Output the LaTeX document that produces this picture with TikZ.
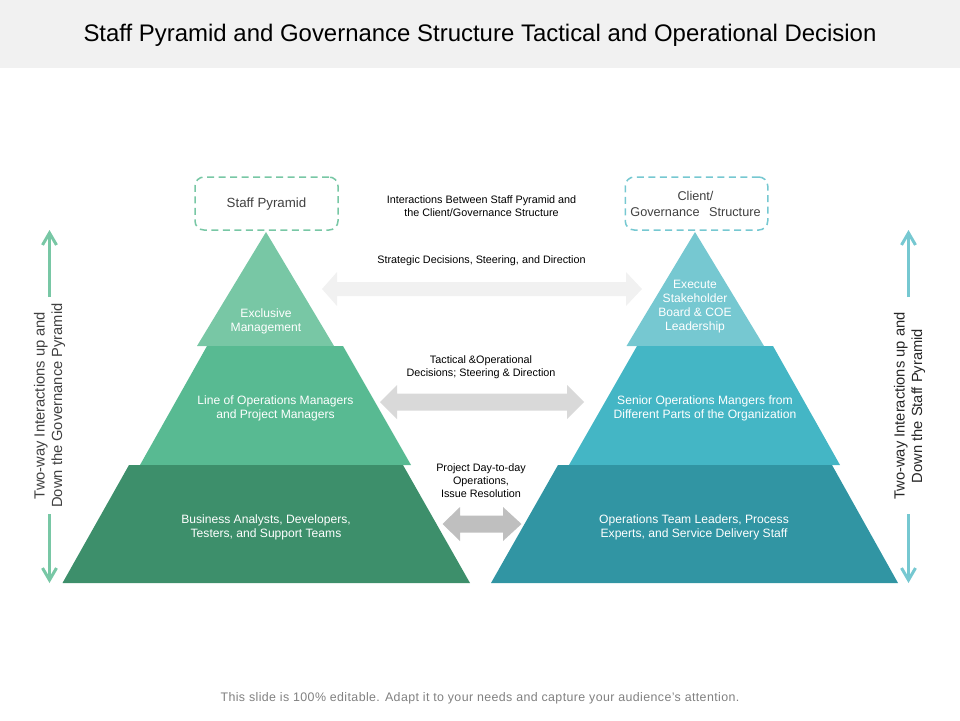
\documentclass[tikz,border=0pt]{standalone}
\usepackage{fontspec}
\setmainfont{Liberation Sans}
\usetikzlibrary{arrows.meta}
\definecolor{gband}{HTML}{F1F1F1}
\definecolor{ga}{HTML}{78C7A5}
\definecolor{gb}{HTML}{58BA92}
\definecolor{gc}{HTML}{3D8F6B}
\definecolor{ta}{HTML}{76C8D1}
\definecolor{tb}{HTML}{44B6C5}
\definecolor{tc}{HTML}{3195A3}
\definecolor{ink}{HTML}{404040}
\tikzset{
  lbl/.style={align=center,inner sep=0pt,font=\fontsize{10.8}{13}\selectfont,text=black},
  wht/.style={align=center,inner sep=0pt,font=\fontsize{12.1}{14}\selectfont,text=white},
  boxtxt/.style={align=center,inner sep=0pt,font=\fontsize{12.7}{16}\selectfont,text=ink},
  sidetxt/.style={align=center,inner sep=0pt,rotate=90,font=\fontsize{14.7}{17.5}\selectfont},
  dashbox/.style={draw,line width=1.5pt,dash pattern=on 7pt off 4.5pt,rounded corners=9pt},
  vert/.style={line width=3.2pt,-{Straight Barb[length=12pt,width=14pt,line width=3pt]}},
}
\begin{document}
\begin{tikzpicture}[x=1pt,y=-1pt]
\useasboundingbox (0,0) rectangle (960,720);
\fill[gband] (0,0) rectangle (960,68);
\node[inner sep=0pt,font=\fontsize{23.95}{28}\selectfont,text=black] (title) at (480,35) {Staff Pyramid and Governance Structure Tactical and Operational Decision};
\node[inner sep=0pt,font=\fontsize{12.4}{14}\selectfont\addfontfeature{LetterSpace=3.2},text=gray] (foot) at (480,698.5) {This slide is 100\% editable. Adapt it to your needs and capture your audience's attention.};

% left pyramid
\fill[ga] (266,232) -- (334,346) -- (197,346) -- cycle;
\fill[gb] (207,346) -- (343,346) -- (411,465) -- (140,465) -- cycle;
\fill[gc] (129,465) -- (403,465) -- (470,583) -- (62.5,583) -- cycle;
% right pyramid
\fill[ta] (695,232) -- (764,346) -- (626.5,346) -- cycle;
\fill[tb] (637,346) -- (773,346) -- (840,465) -- (569,465) -- cycle;
\fill[tc] (558,465) -- (832,465) -- (898,583) -- (491,583) -- cycle;

% horizontal double arrows
\fill[gband] (322,289) -- (337,272) -- (337,282) -- (626,282) -- (626,272) -- (642,289) -- (626,306) -- (626,296) -- (337,296) -- (337,306) -- cycle;
\fill[black!15] (380,402) -- (397,385) -- (397,393.5) -- (567,393.5) -- (567,385) -- (584,402) -- (567,419) -- (567,410.5) -- (397,410.5) -- (397,419) -- cycle;
\fill[black!25] (442.5,524) -- (460,507) -- (460,515.5) -- (503,515.5) -- (503,507) -- (521.5,524) -- (503,541) -- (503,532.5) -- (460,532.5) -- (460,541) -- cycle;

% dashed boxes
\node[dashbox,draw=ga,minimum width=143pt,minimum height=53pt,inner sep=0pt] (staff) at (266.5,203.5) {};
\node[inner sep=0pt,font=\fontsize{13.3}{16}\selectfont,text=ink] (stafftxt) at (266.5,204) {Staff Pyramid};
\node[dashbox,draw=ta,minimum width=142.5pt,minimum height=53pt,inner sep=0pt] (client) at (696.5,203.5) {};
\node[boxtxt] (clienttxt) at (695.5,204) {Client/\\Governance\hspace{6pt} Structure};

% pyramid labels
\node[wht] (l1) at (266,321) {Exclusive\\Management};
\node[wht] (l2) at (275.5,408) {Line of Operations Managers\\and Project Managers};
\node[wht] (l3) at (266,527) {Business Analysts, Developers,\\Testers, and Support Teams};
\node[wht] (r1) at (695,306.5) {Execute\\Stakeholder\\Board \& COE\\Leadership};
\node[wht] (r2) at (705,408) {Senior Operations Mangers from\\Different Parts of the Organization};
\node[wht] (r3) at (694,527) {Operations Team Leaders, Process\\Experts, and Service Delivery Staff};

% centre labels
\node[lbl] (c1) at (481.5,206.5) {Interactions Between Staff Pyramid and\\the Client/Governance Structure};
\node[lbl] (c2) at (481.5,261) {Strategic Decisions, Steering, and Direction};
\node[lbl] (c3) at (481,367.5) {Tactical \&Operational\\Decisions; Steering \& Direction};
\node[lbl] (c4) at (481,481) {Project Day-to-day\\Operations,\\Issue Resolution};

% side labels
\node[sidetxt,text=ink] (sl) at (49.5,405.5) {Two-way Interactions up and\\Down the Governance Pyramid};
\node[sidetxt,text=black!85] (sr) at (909.5,406) {Two-way Interactions up and\\Down the Staff Pyramid};

% vertical arrows
\coordinate (lu0) at (49.5,297); \coordinate (lu1) at (49.5,230);
\coordinate (ld0) at (49.5,514); \coordinate (ld1) at (49.5,583);
\coordinate (ru0) at (908.5,297); \coordinate (ru1) at (908.5,230);
\coordinate (rd0) at (908.5,514); \coordinate (rd1) at (908.5,583);
\draw[vert,ga] (lu0) -- (lu1);
\draw[vert,ga] (ld0) -- (ld1);
\draw[vert,ta] (ru0) -- (ru1);
\draw[vert,ta] (rd0) -- (rd1);
\end{tikzpicture}
\end{document}
